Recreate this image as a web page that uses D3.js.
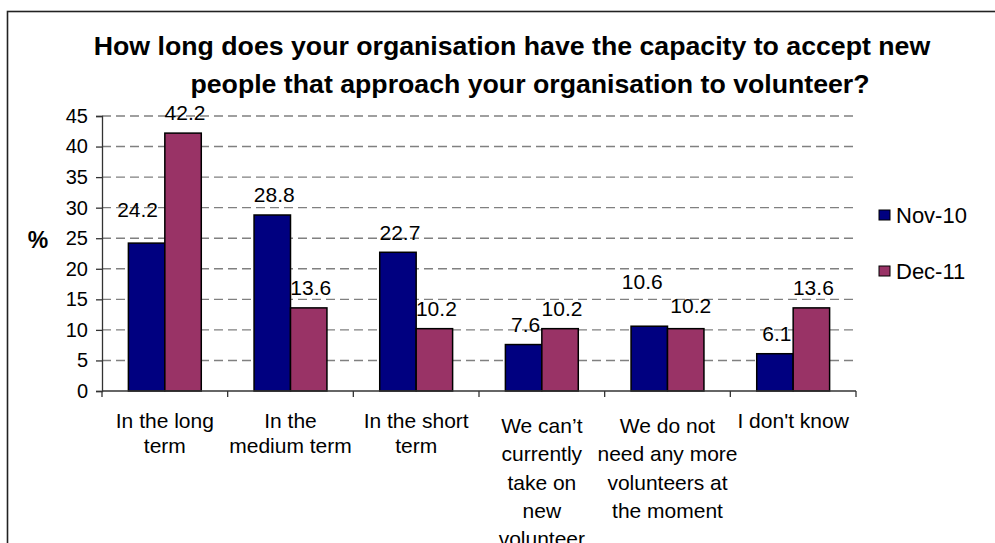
<!DOCTYPE html>
<html>
<head>
<meta charset="utf-8">
<script src="https://cdn.jsdelivr.net/npm/d3@7"></script>
<style>
  html, body { margin: 0; padding: 0; background: #fff; }
  svg { display: block; font-family: "Liberation Sans", Arial, sans-serif; }
</style>
</head>
<body>
<svg id="chart" width="995" height="543"></svg>
<script>
// Survey answers (x-axis categories); "\n" marks the label line breaks
const categories = [
  "In the long\nterm",
  "In the\nmedium term",
  "In the short\nterm",
  "We can\u2019t\ncurrently\ntake on\nnew\nvolunteer",
  "We do not\nneed any more\nvolunteers at\nthe moment",
  "I don't know"
];
const seriesNames = ["Nov-10", "Dec-11"];
const nov10 = [24.2, 28.8, 22.7, 7.6, 10.6, 6.1];
const dec11 = [42.2, 13.6, 10.2, 10.2, 10.2, 13.6];
const yTicks = [0, 5, 10, 15, 20, 25, 30, 35, 40, 45];
const titleLines = [
  "How long does your organisation have the capacity to accept new",
  "people that approach your organisation to volunteer?"
];

const colors = { "Nov-10": "#000080", "Dec-11": "#993366" };
const seriesValues = { "Nov-10": nov10, "Dec-11": dec11 };

const svg = d3.select("#chart");

// chart frame
svg.append("rect")
  .attr("x", 7.5).attr("y", 11.5)
  .attr("width", 1100).attr("height", 700)
  .attr("fill", "#fff").attr("stroke", "#222").attr("stroke-width", 1.6);

const plot = { left: 102, right: 856, top: 116, bottom: 391 };

const x0 = d3.scaleBand().domain(categories).range([plot.left, plot.right]).padding(0);
const bw = x0.bandwidth();
const x1 = d3.scaleBand().domain(seriesNames)
  .range([bw * 0.21, bw * 0.79]).padding(0);
const y = d3.scaleLinear().domain([0, 45]).range([plot.bottom, plot.top]);

// title
svg.append("g").selectAll("text").data(titleLines).join("text")
  .attr("x", (d, i) => i === 0 ? 512 : 530)
  .attr("y", (d, i) => 55 + i * 38)
  .attr("text-anchor", "middle")
  .attr("font-size", 26.7).attr("font-weight", "bold")
  .attr("fill", "#000")
  .text(d => d);

// dashed gridlines
svg.append("g").selectAll("line").data(yTicks.filter(t => t > 0)).join("line")
  .attr("x1", plot.left).attr("x2", plot.right)
  .attr("y1", d => y(d)).attr("y2", d => y(d))
  .attr("stroke", "#808080").attr("stroke-width", 1.4)
  .attr("stroke-dasharray", "9,5");

// y axis
const yAxis = svg.append("g")
  .attr("transform", `translate(${plot.left},0)`)
  .call(d3.axisLeft(y).tickValues(yTicks).tickSize(6).tickPadding(8));
yAxis.select(".domain").attr("stroke", "#333").attr("stroke-width", 1.3);
yAxis.selectAll(".tick line").attr("stroke", "#333").attr("stroke-width", 1.3);
yAxis.selectAll(".tick text")
  .attr("font-size", 20).attr("fill", "#000")
  .attr("font-family", "Liberation Sans, Arial, sans-serif");

// "%" axis title
svg.append("text")
  .attr("x", 38).attr("y", 248)
  .attr("text-anchor", "middle")
  .attr("font-size", 23).attr("font-weight", "bold")
  .text("%");

// bars
const groups = svg.append("g").selectAll("g").data(categories).join("g")
  .attr("transform", d => `translate(${x0(d)},0)`);

groups.selectAll("rect")
  .data((c, ci) => seriesNames.map(s => ({ s, c, v: seriesValues[s][ci] })))
  .join("rect")
  .attr("x", d => x1(d.s))
  .attr("y", d => y(d.v))
  .attr("width", x1.bandwidth())
  .attr("height", d => y(0) - y(d.v))
  .attr("fill", d => colors[d.s])
  .attr("stroke", "#000").attr("stroke-width", 1.5);

// x axis line with category separators
const xAxisG = svg.append("g");
xAxisG.append("line")
  .attr("x1", plot.left).attr("x2", plot.right)
  .attr("y1", plot.bottom).attr("y2", plot.bottom)
  .attr("stroke", "#333").attr("stroke-width", 1.3);
const sepPositions = categories.map(c => x0(c)).concat([plot.right]);
xAxisG.selectAll("line.sep").data(sepPositions).join("line")
  .attr("class", "sep")
  .attr("x1", d => d).attr("x2", d => d)
  .attr("y1", plot.bottom).attr("y2", plot.bottom + 6)
  .attr("stroke", "#333").attr("stroke-width", 1.3);

// category labels
const catLabels = svg.append("g").selectAll("text").data(categories).join("text")
  .attr("text-anchor", "middle")
  .attr("font-size", 21)
  .attr("fill", "#000");
catLabels.each(function(d) {
  const lines = d.split("\n");
  const start = lines.length > 2 ? 433 : 428;
  const step = lines.length > 2 ? 28.3 : 25;
  const cx = x0(d) + bw / 2;
  d3.select(this).selectAll("tspan").data(lines).join("tspan")
    .attr("x", cx)
    .attr("y", (l, i) => start + i * step)
    .text(l => l);
});

// value labels, with a few shifted aside where they would collide
const labelNudge = {
  "0|Nov-10": [-11, -13],
  "4|Nov-10": [-9, -25],
  "4|Dec-11": [3, -3]
};
groups.each(function(c, ci) {
  d3.select(this).selectAll("text")
    .data(seriesNames.map(s => ({ s, v: seriesValues[s][ci] })))
    .join("text")
    .attr("x", d => x1(d.s) + x1.bandwidth() / 2 + 2 + (labelNudge[ci + "|" + d.s] || [0, 0])[0])
    .attr("y", d => y(d.v) - 20 + (labelNudge[ci + "|" + d.s] || [0, 0])[1])
    .attr("dy", "0.35em")
    .attr("text-anchor", "middle")
    .attr("font-size", 21)
    .attr("fill", "#000")
    .text(d => d.v.toFixed(1));
});

// legend
const legend = svg.append("g").selectAll("g").data(seriesNames).join("g")
  .attr("transform", (d, i) => `translate(879,${215 + i * 56})`);
legend.append("rect")
  .attr("x", 0).attr("y", -5)
  .attr("width", 11).attr("height", 10)
  .attr("fill", d => colors[d])
  .attr("stroke", "#000").attr("stroke-width", 1);
legend.append("text")
  .attr("x", 17).attr("y", 0)
  .attr("dy", "0.35em")
  .attr("font-size", 22)
  .attr("fill", "#000")
  .text(d => d);
</script>
</body>
</html>
